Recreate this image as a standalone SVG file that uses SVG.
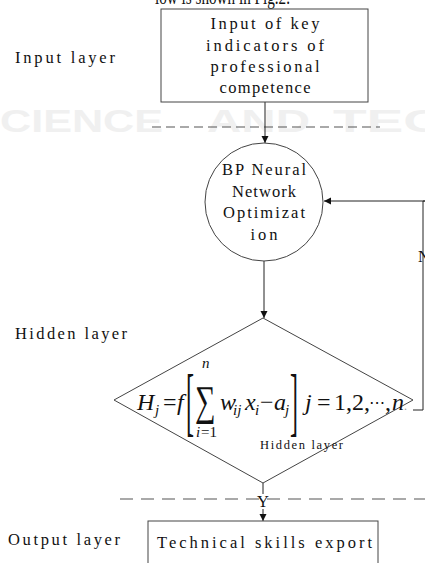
<svg xmlns="http://www.w3.org/2000/svg" width="425" height="563" viewBox="0 0 425 563">
<defs>
<marker id="ah" viewBox="0 0 10 10" refX="10" refY="5" markerWidth="7" markerHeight="9" markerUnits="userSpaceOnUse" orient="auto">
<path d="M0,0 L10,5 L0,10 z" fill="#111"/>
</marker>
<style>
.lbl{font-family:"Liberation Serif",serif;font-size:16.5px;fill:#111}
.ctr{text-anchor:middle}
.shape{fill:#fff;stroke:#444;stroke-width:1}
.conn{fill:none;stroke:#222;stroke-width:1}
.dash1{fill:none;stroke:#555;stroke-width:1.2;stroke-dasharray:9 5}
.dash2{fill:none;stroke:#555;stroke-width:1.2;stroke-dasharray:13 8}
.wm{font-family:"Liberation Sans",sans-serif;font-weight:bold;font-size:31px;fill:#f0f0f0}
.m{font-family:"Liberation Serif",serif;font-size:24px;fill:#111}
.mi{font-family:"Liberation Serif",serif;font-style:italic;font-size:24px;fill:#111}
.ms{font-family:"Liberation Serif",serif;font-style:italic;font-size:15px;fill:#111}
</style>
</defs>
<rect width="425" height="563" fill="#fff"/>
<g id="watermark">
<text class="wm" x="0" y="132" textLength="163" lengthAdjust="spacingAndGlyphs">CIENCE</text>
<text class="wm" x="207" y="132" textLength="103" lengthAdjust="spacingAndGlyphs">AND</text>
<text class="wm" x="333" y="132" textLength="110" lengthAdjust="spacingAndGlyphs">TEC</text>
</g>
<text x="155" y="4" font-family="Liberation Serif,serif" font-size="20" fill="#111" textLength="135" lengthAdjust="spacingAndGlyphs">low is shown in Fig.2.</text>
<g id="layer-labels">
<text class="lbl" x="15" y="63" textLength="100" lengthAdjust="spacing">Input layer</text>
<text class="lbl" x="15" y="339" textLength="112" lengthAdjust="spacing">Hidden layer</text>
<text class="lbl" x="8" y="545" textLength="112" lengthAdjust="spacing">Output layer</text>
</g>
<g id="separators">
<line class="dash1" x1="152" y1="127" x2="380" y2="127"/>
<line class="dash2" x1="120" y1="499" x2="425" y2="499"/>
</g>
<g id="connectors">
<line class="conn" x1="265" y1="102" x2="265" y2="143" marker-end="url(#ah)"/>
<line class="conn" x1="264" y1="261" x2="264" y2="318" marker-end="url(#ah)"/>
<polyline class="conn" points="413,410 423,410 423,201 425,201"/>
<line class="conn" x1="425" y1="201" x2="324" y2="201" marker-end="url(#ah)"/>
<line class="conn" x1="263" y1="483" x2="263" y2="494"/>
<line class="conn" x1="263" y1="509" x2="263" y2="521" marker-end="url(#ah)"/>
<text class="lbl ctr" x="263" y="507">Y</text>
<text class="lbl" x="418" y="262">N</text>
</g>
<g id="node-input">
<rect class="shape" x="161" y="9" width="207" height="93"/>
<text class="lbl ctr" x="265" y="29" textLength="109" lengthAdjust="spacing">Input of key</text>
<text class="lbl ctr" x="265" y="51" textLength="118" lengthAdjust="spacing">indicators of</text>
<text class="lbl ctr" x="265" y="72" textLength="109" lengthAdjust="spacing">professional</text>
<text class="lbl ctr" x="265" y="93" textLength="91" lengthAdjust="spacing">competence</text>
</g>
<g id="node-bp">
<circle class="shape" cx="264" cy="202" r="59"/>
<text class="lbl ctr" x="264" y="175" textLength="84" lengthAdjust="spacing">BP Neural</text>
<text class="lbl ctr" x="264" y="197" textLength="64" lengthAdjust="spacing">Network</text>
<text class="lbl ctr" x="264" y="218" textLength="82" lengthAdjust="spacing">Optimizat</text>
<text class="lbl ctr" x="264" y="240" textLength="27" lengthAdjust="spacing">ion</text>
</g>
<g id="node-hidden">
<polygon class="shape" points="263,318 413,400 263,483 114,400"/>
<text class="mi" x="137" y="410">H</text>
<text class="ms" x="155" y="415">j</text>
<text class="m" x="163" y="410">=</text>
<text class="mi" x="177" y="410">f</text>
<text class="m" transform="translate(186,427) scale(1,3.2)">[</text>
<text class="m" font-size="40" transform="translate(195,415) scale(1.2,1.75)">∑</text>
<text class="ms" x="202" y="368">n</text>
<text class="ms" x="196" y="437">i</text>
<text font-family="Liberation Serif,serif" font-size="15" fill="#111" x="201" y="437">=1</text>
<text class="mi" x="220" y="410">w</text>
<text class="ms" x="233" y="415">ij</text>
<text class="mi" x="245" y="410">x</text>
<text class="ms" x="255" y="415">i</text>
<text class="m" x="260" y="410">−</text>
<text class="mi" x="274" y="410">a</text>
<text class="ms" x="285" y="415">j</text>
<text class="m" transform="translate(290,427) scale(1,3.2)">]</text>
<text class="mi" x="305" y="410">j</text>
<text class="m" x="317" y="410">=</text>
<text class="m" x="334" y="410">1,2,</text>
<text font-family="DejaVu Sans,sans-serif" font-size="16" fill="#111" x="369" y="408">⋯</text>
<text class="m" x="385" y="410">,</text>
<text class="mi" x="392" y="410">n</text>
<text font-family="Liberation Serif,serif" font-size="12" fill="#999" x="404" y="410">.</text>
<text font-family="Liberation Serif,serif" font-size="12.5" fill="#111" x="260" y="449" textLength="83" lengthAdjust="spacing">Hidden layer</text>
</g>
<g id="node-output">
<rect class="shape" x="148" y="521" width="230" height="60"/>
<text class="lbl" x="157" y="548" font-size="17" textLength="215" lengthAdjust="spacing">Technical skills export</text>
</g>
</svg>
